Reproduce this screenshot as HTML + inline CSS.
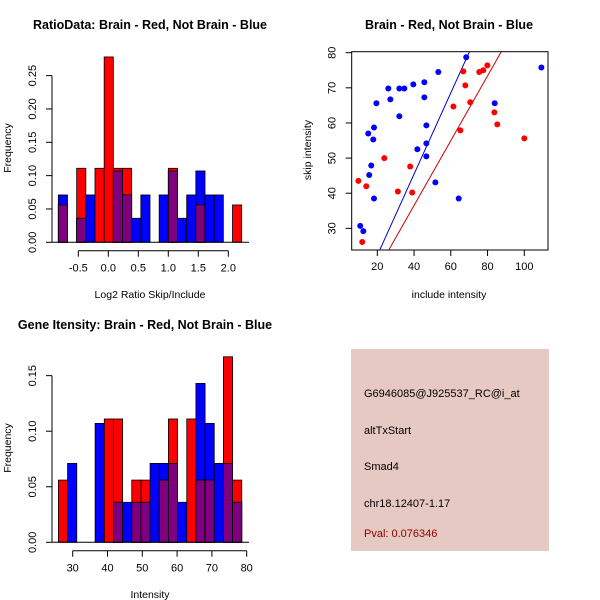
<!DOCTYPE html>
<html><head><meta charset="utf-8"><style>
html,body{margin:0;padding:0;background:#fff}
svg{display:block;font-family:"Liberation Sans",Arial,sans-serif}
</style></head><body>
<svg id="c" width="600" height="600" xmlns="http://www.w3.org/2000/svg"></svg>
<script>
// ---- Panel 1: ratio histogram data ----
const ratioBinStart = -0.833;
const ratioBinWidth = 0.1528;
const ratioBlue = [0.071,0,0.036,0.071,0,0,0.107,0.071,0.036,0.071,0,0.071,0.107,0.036,0.071,0.107,0.071,0.071,0,0];
const ratioRed  = [0.056,0,0.111,0,0.111,0.278,0.111,0.111,0,0,0,0,0.111,0,0,0.056,0,0,0,0.056];
const ratioXTicks = [-0.5,0,0.5,1,1.5,2];
const ratioXLabels = ["-0.5","0.0","0.5","1.0","1.5","2.0"];
const ratioYTicks = [0,0.05,0.10,0.15,0.20,0.25];
const ratioYLabels = ["0.00","0.05","0.10","0.15","0.20","0.25"];
// ---- Panel 2: scatter data ----
const blueX = [10.7,12.4,18.2,15.6,16.7,15.1,18.2,17.8,19.5,26.0,27.1,32.0,34.7,32.0,39.6,45.6,45.6,53.2,46.7,46.7,41.8,46.7,51.6,64.3,68.4,83.9,109.3];
const blueY = [30.7,29.2,38.5,45.2,47.9,57.0,58.7,55.3,65.6,69.8,66.7,69.8,69.8,61.9,71.0,71.6,67.3,74.5,59.3,54.2,52.5,50.5,43.1,38.5,78.7,65.6,75.8];
const redX = [9.7,14.0,11.8,23.8,31.2,37.9,39.0,61.4,65.2,66.8,67.9,70.6,75.5,77.7,79.9,83.7,85.3,100.0];
const redY = [43.5,42.0,26.1,50.0,40.5,47.6,40.2,64.7,57.9,74.7,70.7,65.9,74.5,75.0,76.4,63.0,59.6,55.6];
const blueLine = [-0.8, 1.156]; // intercept, slope
const redLine = [-0.36, 0.922];
const scatXTicks = [20,40,60,80,100];
const scatYTicks = [30,40,50,60,70,80];
// ---- Panel 3: intensity histogram data ----
const intBinStart = 25.9;
const intBinWidth = 2.634;
const intBlue = [0,0.071,0,0,0.107,0,0.036,0.036,0.036,0.036,0.071,0.071,0.071,0.036,0,0.143,0.107,0.071,0.071,0.036];
const intRed  = [0.056,0,0,0,0,0.111,0.111,0,0.056,0.056,0,0.056,0.111,0,0.111,0.056,0.056,0,0.167,0.056];
const intXTicks = [30,40,50,60,70,80];
const intYTicks = [0,0.05,0.10,0.15];
const intYLabels = ["0.00","0.05","0.10","0.15"];

const NS="http://www.w3.org/2000/svg";
const svg=document.getElementById('c');
function el(tag,attrs,parent){const e=document.createElementNS(NS,tag);for(const k in attrs)e.setAttribute(k,attrs[k]);(parent||svg).appendChild(e);return e;}
function txt(s,x,y,size,extra,parent){const t=el('text',Object.assign({x:x,y:y,'font-size':size,'text-anchor':'middle',fill:'#000'},extra||{}),parent);t.textContent=s;return t;}

function hist(g,opts){
  const {sx,sy,start,w,blue,red}=opts;
  for(let i=0;i<blue.length;i++){
    const x0=sx(start+i*w), x1=sx(start+(i+1)*w);
    const b=blue[i], r=red[i];
    const bars=[];
    if(b>0)bars.push([b,'#0000ff','blue']);
    if(r>0)bars.push([r,'#ff0000','red']);
    bars.sort((a,c)=>c[0]-a[0]);
    bars.forEach(bb=>{
      const rc=el('rect',{x:x0,y:sy(bb[0]),width:x1-x0,height:sy(0)-sy(bb[0]),fill:bb[1],stroke:'#000','stroke-width':0.8},g);
      
      
    });
    if(b>0&&r>0){
      const m=Math.min(b,r);
      const rc=el('rect',{x:x0,y:sy(m),width:x1-x0,height:sy(0)-sy(m),fill:'#7f007f',stroke:'#000','stroke-width':0.8},g);
      
      
    }
  }
}
function yAxis(g,x,sy,ticks,labels,v0,v1){
  el('line',{x1:x,x2:x,y1:sy(v0),y2:sy(v1),stroke:'#000'},g);
  ticks.forEach((t,i)=>{
    el('line',{x1:x-6,x2:x,y1:sy(t),y2:sy(t),stroke:'#000'},g);
    const tx=txt(labels[i],x-16,sy(t),11,{transform:`rotate(-90 ${x-16} ${sy(t)})`},g);
    
    
  });
}
function xAxis(g,y,sx,ticks,labels,v0,v1){
  el('line',{x1:sx(v0),x2:sx(v1),y1:y,y2:y,stroke:'#000'},g);
  ticks.forEach((t,i)=>{
    el('line',{x1:sx(t),x2:sx(t),y1:y,y2:y+6,stroke:'#000'},g);
    const tx=txt(labels[i],sx(t),y+21,11,{},g);
    
    
  });
}

// Panel 1
(function(){
  const g=el('g',{});
  
  
  const sx=v=>78.3+(v+0.5)*60;
  const sy=v=>242.3-v*666.7;
  hist(g,{sx,sy,start:ratioBinStart,w:ratioBinWidth,blue:ratioBlue,red:ratioRed});
  el('line',{x1:52,x2:249,y1:sy(0),y2:sy(0),stroke:'#000'},g);
  yAxis(g,52,sy,ratioYTicks,ratioYLabels,0,0.25);
  xAxis(g,250.7,sx,ratioXTicks,ratioXLabels,-0.5,2.0);
  const t=txt('RatioData: Brain - Red, Not Brain - Blue',150,29,12.5,{'font-weight':'bold'},g);
  const xl=txt('Log2 Ratio Skip/Include',150,298,10.5,{},g);
  const yl=txt('Frequency',11,148,10.5,{transform:'rotate(-90 11 148)'},g);
})();

// Panel 2
(function(){
  const g=el('g',{});
  
  
  const L=351.7,R=548,T=51.7,B=250;
  const sx=v=>377.3+(v-20)*1.8375;
  const sy=v=>52.7-(v-80)*3.513;
  const defs=el('defs',{},g);
  const cp=el('clipPath',{id:'clipS'},defs);
  el('rect',{x:L,y:T,width:R-L,height:B-T},cp);
  const xmin=(L-377.3)/1.8375+20, xmax=(R-377.3)/1.8375+20;
  [[blueLine,'#0000cc','blue-fit-line'],[redLine,'#cc0000','red-fit-line']].forEach(l=>{
    const ln=el('line',{x1:sx(xmin),y1:sy(l[0][0]+l[0][1]*xmin),x2:sx(xmax),y2:sy(l[0][0]+l[0][1]*xmax),stroke:l[1],'stroke-width':1,'clip-path':'url(#clipS)'},g);
    
    
  });
  blueX.forEach((x,i)=>{const c=el('circle',{cx:sx(x),cy:sy(blueY[i]),r:3,fill:'#0000ff'},g);
    
    });
  redX.forEach((x,i)=>{const c=el('circle',{cx:sx(x),cy:sy(redY[i]),r:3,fill:'#ff0000'},g);
    
    });
  el('rect',{x:L,y:T,width:R-L,height:B-T,fill:'none',stroke:'#000'},g);
  scatYTicks.forEach(t=>{
    el('line',{x1:L-6,x2:L,y1:sy(t),y2:sy(t),stroke:'#000'},g);
    const tx=txt(String(t),L-16,sy(t),11,{transform:`rotate(-90 ${L-16} ${sy(t)})`},g);
    
  });
  scatXTicks.forEach(t=>{
    el('line',{x1:sx(t),x2:sx(t),y1:B,y2:B+6,stroke:'#000'},g);
    const tx=txt(String(t),sx(t),B+20,11,{},g);
    
  });
  const t=txt('Brain - Red, Not Brain - Blue',449,29,12.5,{'font-weight':'bold'},g);
  const xl=txt('include intensity',449,298,10.5,{},g);
  const yl=txt('skip intensity',311,150,10.5,{transform:'rotate(-90 311 150)'},g);
})();

// Panel 3
(function(){
  const g=el('g',{});
  
  
  const sx=v=>72.7+(v-30)*3.48;
  const sy=v=>542.3-v*1111;
  hist(g,{sx,sy,start:intBinStart,w:intBinWidth,blue:intBlue,red:intRed});
  el('line',{x1:52,x2:249,y1:sy(0),y2:sy(0),stroke:'#000'},g);
  yAxis(g,52,sy,intYTicks,intYLabels,0,0.15);
  xAxis(g,550.7,sx,intXTicks,intXTicks.map(String),30,80);
  const t=txt('Gene Itensity: Brain - Red, Not Brain - Blue',145,329,12.5,{'font-weight':'bold'},g);
  const xl=txt('Intensity',150,598,10.5,{},g);
  const yl=txt('Frequency',11,448,10.5,{transform:'rotate(-90 11 448)'},g);
})();

// Panel 4 info box
(function(){
  const g=el('g',{});
  
  
  el('rect',{x:351,y:349,width:198,height:202,fill:'#e6c9c2'},g);
  const lines=[['G6946085@J925537_RC@i_at',397,'#000','probe-id'],['altTxStart',434,'#000','event-type'],['Smad4',470,'#000','gene-name'],['chr18.12407-1.17',507,'#000','location'],['Pval: 0.076346',537,'#8b0000','p-value']];
  lines.forEach(l=>{const t=txt(l[0],364,l[1],11,{'text-anchor':'start',fill:l[2]},g);
    
    });
})();
</script>
</body></html>
